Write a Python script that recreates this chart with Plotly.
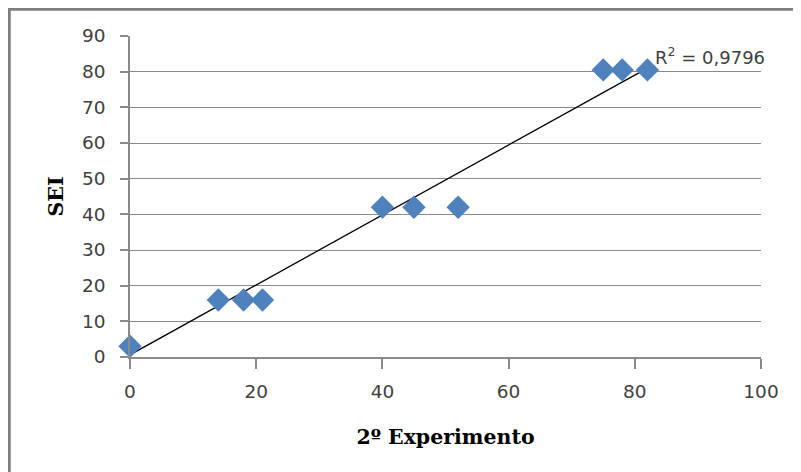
import plotly.graph_objects as go

# values
experimento = [0, 14, 18, 21, 40, 45, 52, 75, 78, 82]
sei = [3, 16, 16, 16, 42, 42, 42, 80.5, 80.5, 80.5]
# linear trendline as drawn in the chart (start and end)
trend_x = [0, 82]
trend_y = [0.6, 81]
r2_text = 'R<sup>2</sup> = 0,9796'

# the page body adds an 8px margin, so the figure is a bit smaller than the window
OFF = 8
W, H = 801 - OFF, 472 - OFF
L, T = 130 - OFF, 36 - OFF
R, B = W - (761 - OFF), H - (357 - OFF)
pw, ph = W - L - R, H - T - B


def px_x(p):
    # page pixel -> paper x
    return (p - OFF - L) / pw


def px_y(p):
    # page pixel -> paper y
    return (H - B - (p - OFF)) / ph


fig = go.Figure()

fig.add_trace(go.Scatter(x=trend_x, y=trend_y, mode='lines',
                         line=dict(color='black', width=1.3),
                         hoverinfo='skip', showlegend=False, cliponaxis=False))

fig.add_trace(go.Scatter(x=experimento, y=sei, mode='markers', cliponaxis=False,
                         marker=dict(symbol='diamond', size=18, color='#4F81BD',
                                     line=dict(width=0)),
                         showlegend=False))

fig.add_annotation(x=trend_x[1], y=trend_y[1], text=r2_text, showarrow=False,
                   xanchor='left', yanchor='middle', xshift=6, yshift=12,
                   font=dict(family='DejaVu Sans, sans-serif', size=18, color='#404040'))

tick_font = dict(family='DejaVu Sans, sans-serif', size=18.5, color='#404040')
title_font = dict(family='DejaVu Serif, serif', size=20.5, color='black')

fig.update_xaxes(range=[0, 100], dtick=20, tick0=0, showgrid=False,
                 showline=True, linecolor='#8A8A8A', linewidth=1.5,
                 ticks='outside', ticklen=10, tickcolor='#8A8A8A', tickwidth=1.5,
                 tickfont=tick_font, ticklabelstandoff=7, zeroline=False,
                 title=dict(text='<b>2º Experimento</b>', font=title_font, standoff=29))

fig.update_yaxes(range=[0, 90], dtick=10, tick0=0, showgrid=True,
                 gridcolor='#8A8A8A', gridwidth=1.3,
                 showline=True, linecolor='#8A8A8A', linewidth=1.5,
                 ticks='outside', ticklen=8, tickcolor='#8A8A8A', tickwidth=1.5,
                 tickfont=tick_font, ticklabelstandoff=11, zeroline=False,
                 title=dict(text='<b>SEI</b>', font=title_font, standoff=13))

# frame of the picture: top and left edges only
fig.add_shape(type='line', xref='paper', yref='paper',
              x0=px_x(7.5), x1=px_x(805), y0=px_y(9), y1=px_y(9),
              line=dict(color='#7F7F7F', width=3.5))
fig.add_shape(type='line', xref='paper', yref='paper',
              x0=px_x(9), x1=px_x(9), y0=px_y(7.5), y1=px_y(480),
              line=dict(color='#7F7F7F', width=3.5))

fig.update_layout(width=W, height=H, margin=dict(l=L, r=R, t=T, b=B, autoexpand=False),
                  plot_bgcolor='white', paper_bgcolor='white')

fig.write_html('out.html')
